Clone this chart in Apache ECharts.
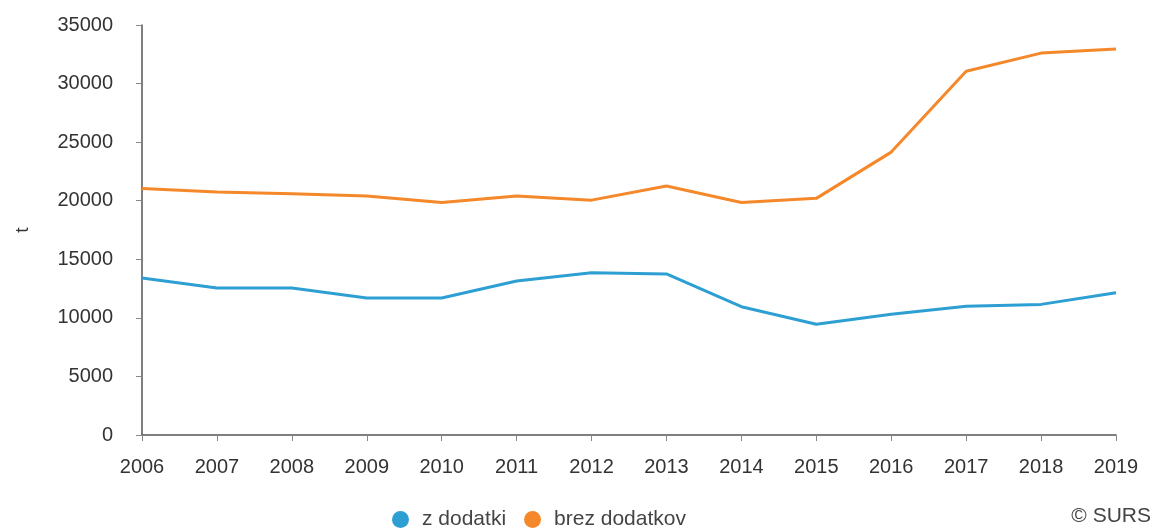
<!DOCTYPE html>
<html>
<head>
<meta charset="utf-8">
<script src="https://cdn.jsdelivr.net/npm/echarts@6/dist/echarts.min.js"></script>
<style>
html,body{margin:0;padding:0;background:#fff;}
#chart{width:1161px;height:528px;}
</style>
</head>
<body>
<div id="chart"></div>
<script>
const years = ['2006','2007','2008','2009','2010','2011','2012','2013','2014','2015','2016','2017','2018','2019'];
const zDodatki = [13400, 12550, 12550, 11700, 11700, 13150, 13850, 13750, 10950, 9450, 10300, 11000, 11150, 12150];
const brezDodatkov = [21050, 20750, 20600, 20400, 19850, 20400, 20050, 21250, 19850, 20200, 24150, 31050, 32600, 32950];
const seriesNames = ['z dodatki', 'brez dodatkov'];
const yAxisName = 't';
const sourceText = '© SURS';

const chart = echarts.init(document.getElementById('chart'));
const font = 'Liberation Sans, Arial, sans-serif';
chart.setOption({
  animation: false,
  color: ['#2e9fd3', '#f5882a'],
  grid: {left: 142, right: 45, top: 25, bottom: 93, containLabel: false, outerBoundsMode: 'none'},
  legend: {
    data: seriesNames,
    top: 504,
    left: 387,
    icon: 'circle',
    itemWidth: 17,
    itemHeight: 17,
    itemGap: 18,
    textStyle: {fontFamily: font, fontSize: 21, color: '#444', padding: [0, 0, 0, 8]}
  },
  xAxis: {
    type: 'category',
    data: years,
    boundaryGap: false,
    axisLine: {lineStyle: {color: '#555', width: 1.5}},
    axisTick: {show: true, length: 6, alignWithLabel: true, lineStyle: {color: '#888'}},
    axisLabel: {fontFamily: font, fontSize: 20, color: '#333', margin: 22}
  },
  yAxis: {
    type: 'value',
    min: 0,
    max: 35000,
    interval: 5000,
    name: yAxisName,
    nameLocation: 'middle',
    nameGap: 110,
    nameRotate: 90,
    nameTextStyle: {fontFamily: font, fontSize: 19, color: '#333'},
    splitLine: {show: false},
    axisLine: {show: true, lineStyle: {color: '#555', width: 1.5}},
    axisTick: {show: true, length: 6, lineStyle: {color: '#888'}},
    axisLabel: {fontFamily: font, fontSize: 20, color: '#333', margin: 29, formatter: function (v) { return String(v); }}
  },
  graphic: [{
    type: 'text',
    right: 10,
    top: 506,
    style: {text: sourceText, font: '21px Liberation Sans, Arial, sans-serif', fill: '#444'}
  }],
  series: [
    {name: seriesNames[0], type: 'line', data: zDodatki, showSymbol: false, symbol: 'circle', lineStyle: {width: 3}},
    {name: seriesNames[1], type: 'line', data: brezDodatkov, showSymbol: false, symbol: 'circle', lineStyle: {width: 3}}
  ]
});
</script>
</body>
</html>
